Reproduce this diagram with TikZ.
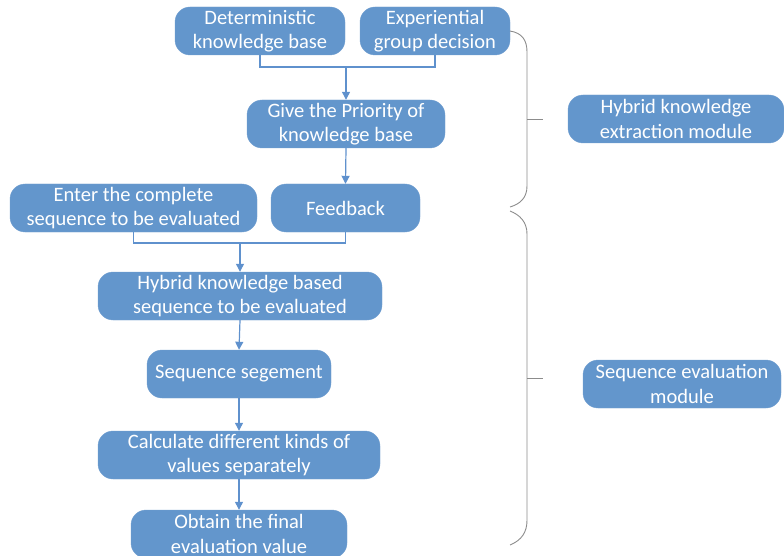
\documentclass[tikz,border=0pt]{standalone}
\usepackage{fontspec}
\setmainfont{Carlito}
\usetikzlibrary{arrows.meta}

\definecolor{boxblue}{RGB}{99,150,204}
\definecolor{lineblue}{RGB}{95,145,205}
\definecolor{bracegray}{RGB}{140,140,140}

\tikzset{
  box/.style={draw=boxblue!90!white, fill=boxblue, rounded corners=15pt,
    minimum height=48pt, align=center, text=white, inner sep=1pt,
    font=\fontsize{20.5}{24.5}\selectfont},
  link/.style={draw=lineblue, line width=1.2pt},
  flow/.style={link, -{Triangle[length=8pt,width=8pt]}},
  brace/.style={draw=bracegray, line width=0.9pt}
}

\begin{document}
\begin{tikzpicture}[x=1pt,y=-1pt]
			%%%%% FRAME %%%%%
			\useasboundingbox (0,0) rectangle (784,556);
			\clip (0,0) rectangle (784,556);
			
			%%%%% KNOWLEDGE PART %%%%%
			\node[box, minimum width=170pt] (det) at (260,31) {Deterministic\\knowledge base};
			\node[box, minimum width=150pt] (exp) at (435,31) {Experiential\\group decision};
			\node[box, minimum width=198pt] (prio) at (346,124) {Give the Priority of\\knowledge base};
			\node[box, minimum width=247pt] (enter) at (133.5,208) {Enter the complete\\sequence to be evaluated};
			\node[box, minimum width=149pt] (feed) at (345.5,208) {Feedback};
			
			\coordinate (j1) at (346,67);
			\draw[link] (det.south) |- (j1) -| (exp.south);
			\draw[flow] (j1) -- (prio.north);
			\draw[flow] (prio.south) -- (feed.north);
			
			%%%%% EVALUATION PART %%%%%
			\node[box, minimum width=284pt] (hyb) at (240,296) {Hybrid knowledge based\\sequence to be evaluated};
			\node[box, minimum width=184pt] (seg) at (239,374) {Sequence segement};
			\node[box, minimum width=282pt] (calc) at (239,455) {Calculate different kinds of\\values separately};
			\node[box, minimum width=216pt] (final) at (239,534) {Obtain the final\\evaluation value};
			
			\coordinate (j2) at (240,243);
			\draw[link] (enter.south) |- (j2) -| (feed.south);
			\draw[flow] (j2) -- (hyb.north);
			\draw[flow] (hyb.south) -- (seg.north);
			\draw[flow] (seg.south) -- (calc.north);
			\draw[flow] (calc.south) -- (final.north);
			
			%%%%% MODULES %%%%%
			\node[box, minimum width=216pt] (mod1) at (676,119) {Hybrid knowledge\\extraction module};
			\node[box, minimum width=198pt] (mod2) at (682,384) {Sequence evaluation\\module};
			
			\draw[brace] (510,31) .. controls (522,33) and (527,40) .. (527,52) -- (527,186)
			  .. controls (527,198) and (520,204) .. (510,207);
			\draw[brace] (527,119) -- (543,119);
			
			\draw[brace] (510,211) .. controls (520,215) and (527,222) .. (527,234) -- (527,520)
			  .. controls (527,532) and (522,540) .. (510,545);
			\draw[brace] (527,378) -- (543,378);
		\end{tikzpicture}
\end{document}
